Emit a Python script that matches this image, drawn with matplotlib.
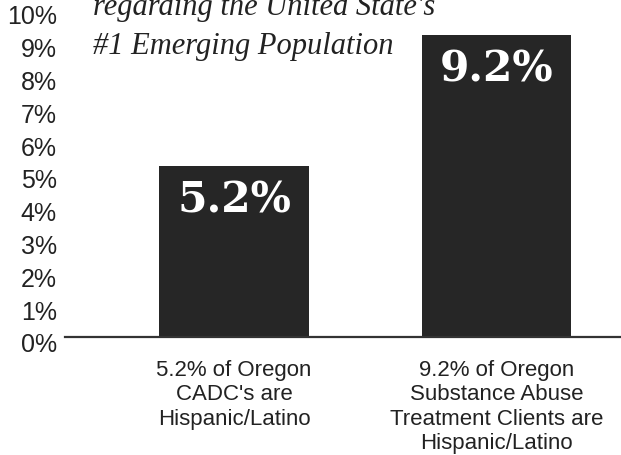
import matplotlib.pyplot as plt
import matplotlib.transforms as mtransforms
import numpy as np

# chart data
categories = ["5.2% of Oregon\nCADC's are\nHispanic/Latino",
              "9.2% of Oregon\nSubstance Abuse\nTreatment Clients are\nHispanic/Latino"]
values = [5.2, 9.2]
value_labels = ["5.2%", "9.2%"]
yticks = list(range(0, 11))
ytick_labels = [f"{t}%" for t in yticks]
note = "regarding the United State's\n#1 Emerging Population"

fig = plt.figure(figsize=(6.21, 4.56), dpi=100)
ax = fig.add_axes([65 / 621, 1 - 338 / 456, 1 - 65 / 621, 328 / 456])

x = np.arange(len(values))
bars = ax.bar(x, values, width=0.57, color='#262626', zorder=2)

# big white numbers inside the bars
for b, lab in zip(bars, value_labels):
    ax.annotate(lab, (b.get_x() + b.get_width() / 2, b.get_height()),
                xytext=(0, -33), textcoords='offset pixels',
                ha='center', va='center', color='white',
                fontsize=30.5, fontweight='bold', family='DejaVu Serif')

ax.set_xlim(-0.644, 1.474)
ax.set_ylim(0, 10)
ax.set_yticks(yticks)
ax.set_yticklabels(ytick_labels, family='Liberation Sans', fontsize=18, color='#222222')
ax.set_xticks(x)
ax.set_xticklabels(categories, family='Liberation Sans', fontsize=16,
                   color='#222222', linespacing=1.2)
ax.tick_params(axis='both', length=0)
ax.tick_params(axis='x', pad=16)
ax.tick_params(axis='y', pad=6)

# nudge the y tick labels down a little, as in the original
shift = mtransforms.ScaledTranslation(0, -5 / 100, fig.dpi_scale_trans)
for t in ax.get_yticklabels():
    t.set_transform(t.get_transform() + shift)

for s in ['top', 'right', 'left']:
    ax.spines[s].set_visible(False)
ax.spines['bottom'].set_color('#333333')
ax.spines['bottom'].set_linewidth(1.6)

# the note runs off the top edge in the original too
fig.text(93 / 621, 1 - 54 / 456, note, family='Liberation Serif', style='italic',
         fontsize=22, color='#222222', ha='left', va='baseline', linespacing=1.45)

fig.savefig('out.png', dpi=100)
